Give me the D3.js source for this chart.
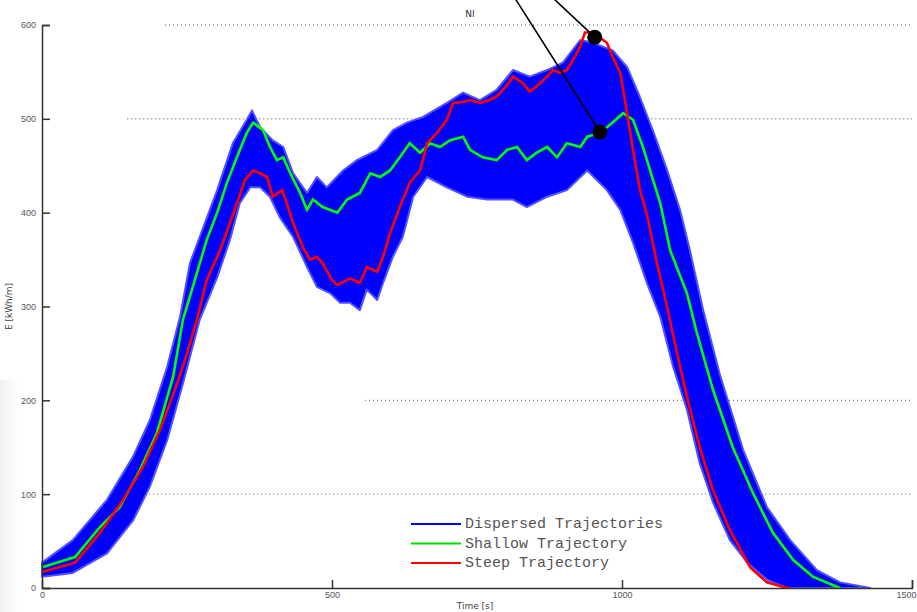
<!DOCTYPE html>
<html>
<head>
<meta charset="utf-8">
<script src="https://cdn.jsdelivr.net/npm/d3@7"></script>
<style>
  body { margin: 0; background: #fff; }
  svg { display: block; }
</style>
</head>
<body>
<div id="chart"></div>
<script>
// time [s], energy values
var upperEnv = [[0,27],[53,51],[112,94],[157,140],[186,179],[216,236],[238,289],[255,346],[302,424],[329,474],
  [353,499],[362,509],[376,491],[398,477],[416,470],[433,442],[457,421],[474,438],[491,427],[519,445],
  [543,456],[578,467],[605,488],[629,496],[657,502],[698,517],[726,528],[755,520],[784,531],[812,552],
  [841,545],[871,552],[898,560],[928,584],[950,581],[984,573],[1009,555],[1031,523],[1053,488],[1078,445],
  [1100,403],[1117,360],[1140,296],[1169,227],[1209,147],[1250,86],[1290,51],[1336,19],[1376,6],[1428,0]];

var lowerEnv = [[0,12],[53,16],[112,37],[157,72],[186,108],[216,158],[243,218],[272,286],[302,331],[324,371],
  [341,410],[359,427],[376,427],[393,417],[410,395],[433,374],[457,342],[474,321],[497,314],[514,304],
  [531,304],[548,296],[560,318],[578,307],[588,325],[605,353],[622,374],[640,417],[664,438],[698,427],
  [733,417],[767,414],[812,414],[836,406],[871,417],[905,424],[940,445],[974,424],[997,403],[1019,368],
  [1043,325],[1066,289],[1088,236],[1112,190],[1134,133],[1157,91],[1186,51],[1216,27],[1250,9],[1284,0]];

var shallow = [[0,22],[57,33],[100,65],[134,86],[169,126],[198,165],[226,225],[243,286],[260,321],[284,371],
  [302,400],[319,432],[336,459],[353,485],[364,496],[381,488],[393,470],[405,456],[416,459],[428,442],
  [445,421],[457,403],[467,414],[484,406],[509,400],[526,414],[548,421],[566,442],[583,438],[600,445],
  [617,459],[634,474],[652,464],[669,474],[686,470],[703,477],[726,481],[738,467],[760,459],[784,456],
  [802,467],[819,470],[836,456],[853,464],[871,470],[888,459],[905,474],[928,470],[940,481],[962,485],
  [984,496],[1002,506],[1019,499],[1036,470],[1066,410],[1083,360],[1112,314],[1129,272],[1157,211],
  [1191,150],[1226,101],[1260,59],[1295,30],[1329,12],[1364,3],[1376,0]];

var steep = [[0,17],[57,27],[100,59],[140,94],[174,129],[203,168],[233,218],[250,250],[267,286],[284,328],
  [307,360],[324,389],[336,410],[350,435],[364,445],[376,442],[388,438],[398,417],[414,424],[422,410],
  [433,389],[450,363],[462,350],[474,353],[484,346],[500,328],[510,323],[531,330],[548,325],[560,342],
  [578,337],[588,353],[600,378],[617,406],[634,432],[652,445],[664,474],[681,485],[698,499],[709,517],
  [726,518],[738,520],[755,517],[772,520],[786,525],[802,536],[812,545],[829,538],[841,529],[859,538],
  [871,545],[881,552],[893,549],[905,552],[916,563],[928,577],[936,592],[950,592],[974,581],[984,566],
  [997,549],[1005,520],[1019,467],[1031,424],[1043,398],[1060,347],[1078,299],[1095,250],[1112,204],
  [1134,150],[1157,104],[1186,62],[1221,22],[1250,6],[1278,1],[1290,0]];

// marked points and the leader lines that run off the top
var markers = [[953,587],[962,486]];
var leaderTops = [[884,627],[817,627]];

var yTicks = [0,100,200,300,400,500,600];
var xTicks = [0,500,1000,1500];
var gridVals = [600,500,200,100];
var gridFrom = [212,147,557,178];

var legendNames = ['Dispersed Trajectories','Shallow Trajectory','Steep Trajectory'];
var legendColors = ['#0000ff','#00e000','#ff0000'];

var width = 917, height = 612;
var margin = { top: 25, right: 5, bottom: 24, left: 42 };

var svg = d3.select('#chart').append('svg')
  .attr('width', width)
  .attr('height', height)
  .style('font-family', 'DejaVu Sans, sans-serif');

var x = d3.scaleLinear().domain([0,1500]).range([margin.left, width - margin.right]);
var y = d3.scaleLinear().domain([0,600]).range([height - margin.bottom, margin.top]);

// faint grey strip on the left edge
var grad = svg.append('defs').append('linearGradient').attr('id','edge');
grad.append('stop').attr('offset','0%').attr('stop-color','#f1f1f1');
grad.append('stop').attr('offset','100%').attr('stop-color','#fff');
svg.append('rect').attr('x',0).attr('y',380).attr('width',20).attr('height',232).style('fill','url(#edge)');

// dotted grid lines
svg.append('g').selectAll('line')
  .data(gridVals)
  .enter().append('line')
  .attr('x1', (d,i) => x(gridFrom[i]))
  .attr('x2', x(1500))
  .attr('y1', d => y(d)).attr('y2', d => y(d))
  .attr('stroke', '#555')
  .attr('stroke-width', 1)
  .attr('stroke-dasharray', '1,3');

// band of dispersed trajectories
var band = upperEnv.concat(lowerEnv.slice().reverse());
var bandLine = d3.line().x(d => x(d[0])).y(d => y(d[1]));
svg.append('path')
  .attr('d', bandLine(band) + 'Z')
  .attr('fill', '#0000ff')
  .attr('stroke', '#5050ff')
  .attr('stroke-width', 2)
  .attr('stroke-linejoin', 'round');

var line = d3.line().x(d => x(d[0])).y(d => y(d[1]));

svg.append('path').datum(shallow)
  .attr('d', line)
  .attr('fill', 'none')
  .attr('stroke', '#00ff00')
  .attr('stroke-width', 2.6);

svg.append('path').datum(steep)
  .attr('d', line)
  .attr('fill', 'none')
  .attr('stroke', '#ff0000')
  .attr('stroke-width', 2.6);

// axes
var yAxis = d3.axisLeft(y).tickValues(yTicks).tickSize(-8).tickPadding(6).tickFormat(d3.format('d'));
var gy = svg.append('g').attr('transform', `translate(${margin.left},0)`).call(yAxis);
var xAxis = d3.axisBottom(x).tickValues(xTicks).tickSize(-8).tickPadding(4).tickFormat(d3.format('d'));
var gx = svg.append('g').attr('transform', `translate(0,${height - margin.bottom})`).call(xAxis);
[gx, gy].forEach(g => {
  g.select('.domain').attr('stroke', '#333').attr('stroke-width', 1.5);
  g.selectAll('.tick line').attr('stroke', '#333').attr('stroke-width', 1.5);
  g.selectAll('.tick text').attr('fill', '#555').style('font-size', '9px');
});
gx.selectAll('.tick').filter(d => d == 0).select('line').remove();
gx.selectAll('.tick').filter(d => d == 1500).select('text').attr('text-anchor', 'end').attr('dx', 4);

svg.append('text')
  .attr('x', 475).attr('y', 609)
  .attr('text-anchor', 'middle')
  .style('font-size', '9px').attr('fill', '#444')
  .text('Time [s]');

svg.append('text')
  .attr('transform', `translate(12,${y(300)}) rotate(-90)`)
  .attr('text-anchor', 'middle')
  .style('font-size', '9px').attr('fill', '#444')
  .text('E [kWh/m]');

svg.append('text')
  .attr('x', 470).attr('y', 17)
  .attr('text-anchor', 'middle')
  .style('font-size', '9px').attr('fill', '#333')
  .text('NI');

// leader lines and markers
svg.append('g').selectAll('line')
  .data(markers)
  .enter().append('line')
  .attr('x1', (d,i) => x(leaderTops[i][0]))
  .attr('y1', (d,i) => y(leaderTops[i][1]))
  .attr('x2', d => x(d[0]))
  .attr('y2', d => y(d[1]))
  .attr('stroke', '#000')
  .attr('stroke-width', 1.6);

svg.append('g').selectAll('circle')
  .data(markers)
  .enter().append('circle')
  .attr('cx', d => x(d[0]))
  .attr('cy', d => y(d[1]))
  .attr('r', 7.5)
  .attr('fill', '#000');

// legend
var legend = svg.append('g').attr('transform', 'translate(411,524)');
legendNames.forEach((name, i) => {
  legend.append('line')
    .attr('x1', 0).attr('x2', 50)
    .attr('y1', i * 19.5).attr('y2', i * 19.5)
    .attr('stroke', legendColors[i])
    .attr('stroke-width', 2);
  legend.append('text')
    .attr('x', 54).attr('y', i * 19.5 + 4)
    .style('font-family', 'Liberation Mono, monospace')
    .style('font-size', '15px')
    .attr('fill', '#555')
    .text(name);
});
</script>
</body>
</html>
